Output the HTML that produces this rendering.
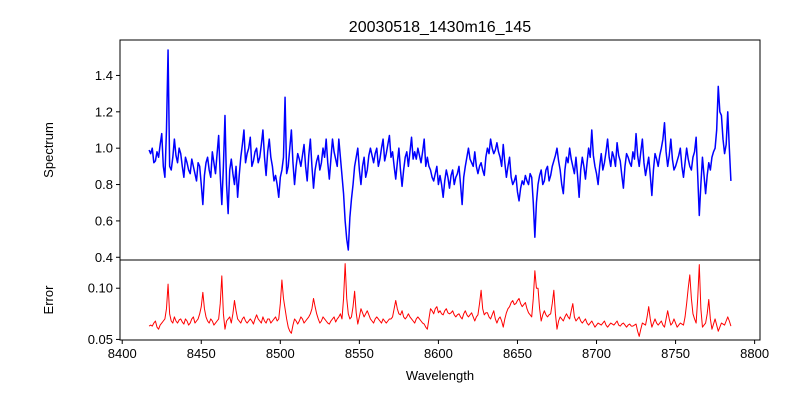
<!DOCTYPE html>
<html><head><meta charset="utf-8"><style>
html,body{margin:0;padding:0;background:#fff;}
svg{display:block;font-family:"Liberation Sans","DejaVu Sans",sans-serif;}
</style></head><body>
<svg id="chart" width="800" height="400" viewBox="0 0 800 400">
<rect x="0" y="0" width="800" height="400" fill="#fff"/>
<text x="440" y="32" font-size="16" text-anchor="middle">20030518_1430m16_145</text>
<text transform="translate(53,150) rotate(-90)" font-size="13" text-anchor="middle">Spectrum</text>
<text transform="translate(53,300) rotate(-90)" font-size="13" text-anchor="middle">Error</text>
<text x="440" y="380" font-size="13" text-anchor="middle">Wavelength</text>
<g id="g"></g>
</svg>
<script>
const waveStart = 8417;
const waveStep = 1;
const spectrumValues = [0.99,0.97,1.0,0.92,0.93,0.98,0.95,1.02,1.08,0.9,0.84,1.1,1.54,0.9,0.88,0.95,1.05,0.96,0.92,1.0,0.97,0.9,0.84,0.95,0.92,0.88,0.86,0.94,0.9,0.86,0.82,0.92,0.9,0.8,0.69,0.85,0.92,0.95,0.88,0.84,0.98,0.92,0.86,0.97,1.07,0.85,0.69,0.9,1.18,0.8,0.64,0.88,0.94,0.86,0.8,0.9,0.73,0.85,0.95,1.02,1.1,0.92,0.97,1.0,1.06,0.9,0.93,0.98,1.0,0.92,0.95,1.02,1.1,0.95,0.85,0.98,1.05,0.95,0.9,0.82,0.85,0.8,0.73,0.84,0.88,0.95,1.28,0.86,0.9,1.0,1.1,0.92,0.8,0.9,0.97,0.94,0.9,0.96,1.02,0.9,0.82,0.96,1.05,0.9,0.78,0.88,0.93,0.96,0.88,0.92,1.0,0.95,1.05,0.92,0.83,0.94,1.05,0.98,0.94,0.9,1.05,0.95,0.85,0.75,0.6,0.5,0.44,0.62,0.72,0.8,0.9,0.95,1.0,0.88,0.8,0.9,0.95,0.84,0.88,0.96,1.0,0.96,0.92,0.97,1.0,0.9,0.94,1.0,1.05,0.93,0.97,1.02,1.07,0.95,0.98,0.9,0.83,0.92,1.0,0.88,0.79,0.88,0.95,0.98,0.9,0.98,1.06,0.94,0.98,0.94,1.0,0.96,0.92,0.98,1.05,0.9,0.95,0.9,0.88,0.84,0.82,0.86,0.9,0.8,0.85,0.8,0.73,0.82,0.88,0.84,0.78,0.85,0.88,0.8,0.84,0.86,0.9,0.8,0.69,0.84,0.9,0.95,1.0,0.94,0.92,0.9,0.98,0.9,0.86,0.9,0.92,0.88,0.85,0.95,1.0,0.97,1.05,1.0,0.97,0.99,1.03,0.98,0.95,0.9,1.02,0.92,0.84,0.9,0.95,0.84,0.8,0.82,0.85,0.76,0.71,0.78,0.82,0.8,0.85,0.82,0.8,0.86,0.84,0.7,0.51,0.7,0.8,0.85,0.88,0.8,0.82,0.88,0.9,0.82,0.85,0.9,0.93,0.96,1.0,0.93,0.88,0.8,0.75,0.88,0.95,0.92,1.0,0.94,0.9,0.86,0.95,0.85,0.73,0.88,0.95,0.9,0.83,0.92,1.0,0.95,1.1,0.96,0.9,0.86,0.8,0.9,0.97,0.88,0.92,0.98,1.05,0.95,0.9,0.98,0.95,0.9,1.03,0.96,0.93,0.85,0.78,0.9,0.97,0.95,0.92,0.9,0.98,0.94,1.08,0.96,0.9,0.98,1.05,0.92,0.85,0.9,0.95,0.85,0.74,0.88,0.97,0.94,0.9,0.96,1.0,1.05,1.14,0.98,0.9,0.96,1.05,0.94,0.88,0.9,0.93,0.96,1.0,0.9,0.84,0.92,1.0,0.94,0.9,0.88,0.95,0.98,1.06,0.85,0.63,0.8,0.95,0.85,0.75,0.85,0.92,0.88,0.95,0.98,1.0,1.1,1.34,1.2,1.18,1.05,0.97,1.02,1.2,1.0,0.82];
const errorValues = [0.063,0.064,0.063,0.066,0.068,0.062,0.06,0.064,0.066,0.068,0.07,0.08,0.104,0.075,0.068,0.066,0.072,0.068,0.066,0.069,0.07,0.067,0.065,0.07,0.068,0.064,0.066,0.07,0.072,0.066,0.068,0.07,0.075,0.082,0.096,0.08,0.072,0.068,0.066,0.07,0.068,0.064,0.066,0.068,0.07,0.085,0.112,0.075,0.06,0.068,0.07,0.072,0.066,0.075,0.088,0.078,0.07,0.068,0.066,0.07,0.072,0.068,0.066,0.068,0.07,0.068,0.065,0.07,0.074,0.07,0.068,0.066,0.072,0.068,0.066,0.07,0.07,0.066,0.068,0.07,0.072,0.068,0.07,0.085,0.108,0.09,0.08,0.07,0.062,0.058,0.056,0.064,0.07,0.068,0.065,0.068,0.072,0.07,0.066,0.068,0.07,0.072,0.075,0.08,0.09,0.082,0.075,0.07,0.066,0.068,0.072,0.07,0.068,0.066,0.065,0.068,0.07,0.072,0.067,0.07,0.072,0.075,0.07,0.09,0.124,0.09,0.075,0.07,0.072,0.082,0.097,0.076,0.065,0.072,0.08,0.076,0.072,0.075,0.078,0.074,0.07,0.068,0.066,0.07,0.072,0.07,0.068,0.066,0.07,0.068,0.066,0.068,0.07,0.07,0.072,0.08,0.088,0.08,0.075,0.074,0.078,0.072,0.07,0.072,0.075,0.072,0.07,0.068,0.066,0.07,0.072,0.07,0.068,0.066,0.065,0.062,0.06,0.07,0.08,0.078,0.075,0.08,0.082,0.076,0.078,0.075,0.074,0.078,0.08,0.076,0.075,0.076,0.078,0.074,0.072,0.074,0.075,0.072,0.07,0.075,0.078,0.074,0.072,0.074,0.076,0.072,0.068,0.072,0.074,0.085,0.098,0.08,0.074,0.076,0.076,0.072,0.07,0.074,0.078,0.07,0.066,0.07,0.072,0.068,0.062,0.07,0.076,0.08,0.082,0.086,0.088,0.084,0.085,0.088,0.09,0.085,0.082,0.084,0.086,0.08,0.076,0.074,0.072,0.09,0.117,0.1,0.1,0.08,0.068,0.074,0.078,0.074,0.072,0.074,0.075,0.085,0.098,0.075,0.06,0.068,0.072,0.07,0.068,0.072,0.075,0.072,0.07,0.078,0.085,0.072,0.068,0.07,0.072,0.068,0.066,0.068,0.07,0.066,0.064,0.066,0.068,0.065,0.062,0.064,0.066,0.065,0.064,0.066,0.068,0.064,0.062,0.064,0.066,0.065,0.064,0.066,0.068,0.064,0.063,0.065,0.066,0.064,0.062,0.064,0.065,0.063,0.063,0.064,0.065,0.058,0.053,0.06,0.066,0.065,0.064,0.072,0.082,0.07,0.062,0.066,0.07,0.066,0.064,0.066,0.068,0.064,0.062,0.07,0.078,0.07,0.064,0.066,0.07,0.066,0.062,0.064,0.066,0.065,0.064,0.072,0.085,0.1,0.113,0.09,0.075,0.07,0.066,0.09,0.123,0.08,0.062,0.064,0.066,0.075,0.089,0.07,0.06,0.065,0.07,0.064,0.058,0.062,0.066,0.065,0.064,0.068,0.072,0.068,0.063];
const xTicks = [8400,8450,8500,8550,8600,8650,8700,8750,8800];
const specTicks = [0.4,0.6,0.8,1.0,1.2,1.4];
const errTicks = [0.05,0.10];

const NS = "http://www.w3.org/2000/svg";
const g = document.getElementById('g');
const L = 120, R = 760, T1 = 40, B1 = 260, T2 = 260, B2 = 340;
const n = Math.min(spectrumValues.length, errorValues.length);
const waves = [];
for (let i = 0; i < n; i++) waves.push(waveStart + i * waveStep);
const wMin = Math.min(...waves), wMax = Math.max(...waves), wPad = (wMax - wMin) * 0.05;
function xs(v){ return L + (v - (wMin - wPad)) / ((wMax + wPad) - (wMin - wPad)) * (R - L); }
const sMin = Math.min(...spectrumValues), sMax = Math.max(...spectrumValues), sPad = (sMax - sMin) * 0.05;
function ys(v){ return B1 - (v - (sMin - sPad)) / ((sMax + sPad) - (sMin - sPad)) * (B1 - T1); }
const eMin = Math.min(...errorValues), eMax = Math.max(...errorValues), ePad = (eMax - eMin) * 0.05;
function ye(v){ return B2 - (v - (eMin - ePad)) / ((eMax + ePad) - (eMin - ePad)) * (B2 - T2); }

function mk(tag, attrs){ const e = document.createElementNS(NS, tag); for (const k in attrs) e.setAttribute(k, attrs[k]); g.appendChild(e); return e; }

let d1 = '', d2 = '';
for (let i = 0; i < n; i++) {
  d1 += (i ? 'L' : 'M') + xs(waves[i]).toFixed(2) + ' ' + ys(spectrumValues[i]).toFixed(2);
  d2 += (i ? 'L' : 'M') + xs(waves[i]).toFixed(2) + ' ' + ye(errorValues[i]).toFixed(2);
}
const p1 = mk('path', {d: d1, fill: 'none', stroke: '#0000ff', 'stroke-width': 1.5, 'stroke-linejoin': 'round'});


const p2 = mk('path', {d: d2, fill: 'none', stroke: '#ff0000', 'stroke-width': 1, 'stroke-linejoin': 'round'});



const f1 = mk('rect', {x: L, y: T1, width: R - L, height: B1 - T1, fill: 'none', stroke: '#000', 'stroke-width': 1});


const f2 = mk('rect', {x: L, y: T2, width: R - L, height: B2 - T2, fill: 'none', stroke: '#000', 'stroke-width': 1});



xTicks.forEach(t => {
  const x = xs(t);
  const tk = mk('line', {x1: x, x2: x, y1: B2, y2: B2 + 4, stroke: '#000'});
  
  
  const lb = mk('text', {x: x, y: B2 + 18, 'font-size': 13, 'text-anchor': 'middle'});
  lb.textContent = String(t);
  
  
});
specTicks.forEach(t => {
  const y = ys(t);
  const tk = mk('line', {x1: L - 4, x2: L, y1: y, y2: y, stroke: '#000'});
  
  
  const lb = mk('text', {x: L - 7, y: y + 4.5, 'font-size': 13, 'text-anchor': 'end'});
  lb.textContent = t.toFixed(1);
  
  
});
errTicks.forEach(t => {
  const y = ye(t);
  const tk = mk('line', {x1: L - 4, x2: L, y1: y, y2: y, stroke: '#000'});
  
  
  const lb = mk('text', {x: L - 7, y: y + 4.5, 'font-size': 13, 'text-anchor': 'end'});
  lb.textContent = t.toFixed(2);
  
  
});
</script>
</body></html>
